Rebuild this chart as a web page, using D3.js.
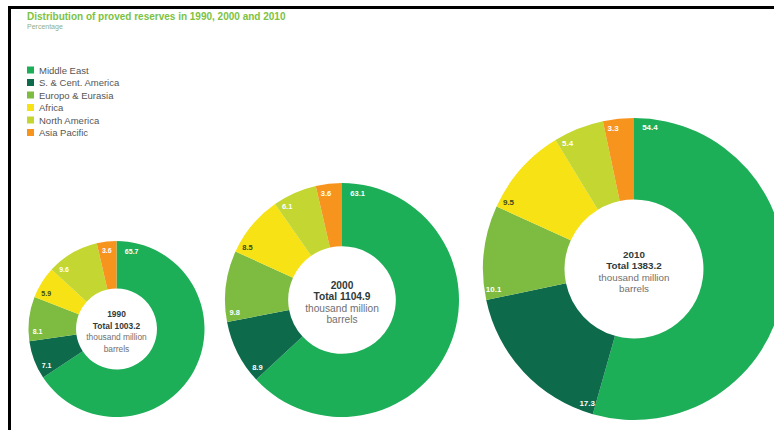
<!DOCTYPE html>
<html>
<head>
<meta charset="utf-8">
<script src="https://cdn.jsdelivr.net/npm/d3@7"></script>
<style>
  body { margin: 0; background: #fff; }
  svg { display: block; font-family: "Liberation Sans", Arial, sans-serif; }
</style>
</head>
<body>
<div id="chart"></div>
<script>
// data
const regions = ["Middle East", "S. & Cent. America", "Europo & Eurasia", "Africa", "North America", "Asia Pacific"];
const years = ["1990", "2000", "2010"];
const totals = ["1003.2", "1104.9", "1383.2"];
const share1990 = [65.7, 7.1, 8.1, 5.9, 9.6, 3.6];
const share2000 = [63.1, 8.9, 9.8, 8.5, 6.1, 3.6];
const share2010 = [54.4, 17.3, 10.1, 9.5, 5.4, 3.3];
const shares = [share1990, share2000, share2010];

// constants
const w = 774;
const h = 430;
const colors = ["#1dae58", "#0d6b4c", "#7dbb41", "#f6e215", "#c3d631", "#f7941e"];
const labelColors = ["#fff", "#fff", "#fff", "#3b4a1c", "#fff", "#fff"];
const donuts = [
  { cx: 116.5, cy: 329, r: 88, labelSize: 7, textSize: 8.4 },
  { cx: 342, cy: 300, r: 117, labelSize: 7.5, textSize: 10.2 },
  { cx: 634, cy: 269, r: 151, labelSize: 8, textSize: 9.8 }
];

const color = d3.scaleOrdinal().domain(regions).range(colors);

const svg = d3.select("#chart")
  .append("svg")
  .attr("width", w)
  .attr("height", h);

// frame
svg.append("rect").attr("x", 8).attr("y", 6).attr("width", w - 8).attr("height", 3).attr("fill", "#000");
svg.append("rect").attr("x", 8).attr("y", 6).attr("width", 3).attr("height", h - 6).attr("fill", "#000");

// title
svg.append("text")
  .attr("x", 27)
  .attr("y", 19.5)
  .attr("font-size", 10)
  .attr("font-weight", "bold")
  .attr("fill", "#7cc242")
  .text("Distribution of proved reserves in 1990, 2000 and 2010");
svg.append("text")
  .attr("x", 27)
  .attr("y", 29)
  .attr("font-size", 7)
  .attr("fill", "#8fae86")
  .text("Percentage");

// legend
const legend = svg.append("g")
  .selectAll("g")
  .data(regions)
  .enter()
  .append("g")
  .attr("transform", (d, i) => `translate(27, ${66.5 + i * 12.5})`);
legend.append("rect")
  .attr("width", 7)
  .attr("height", 7)
  .attr("fill", (d) => color(d));
legend.append("text")
  .attr("x", 12)
  .attr("y", 3.5)
  .attr("dominant-baseline", "central")
  .attr("font-size", 9.5)
  .attr("fill", "#555")
  .text((d) => d);

// donuts
const pie = d3.pie().sort(null).value((d) => d.value);

donuts.forEach((dn, k) => {
  const data = regions.map((name, i) => ({ name: name, value: shares[k][i], index: i }));
  const arcs = pie(data);
  const arc = d3.arc().innerRadius(dn.r * 0.46).outerRadius(dn.r);
  const g = svg.append("g").attr("transform", `translate(${dn.cx},${dn.cy})`);

  g.selectAll("path")
    .data(arcs)
    .enter()
    .append("path")
    .attr("d", arc)
    .attr("fill", (d) => color(d.data.name));

  // value labels sit just inside the start edge of each slice
  const lr = dn.r - 9;
  g.selectAll("text.val")
    .data(arcs)
    .enter()
    .append("text")
    .attr("class", "val")
    .attr("x", (d) => lr * Math.sin(d.startAngle + (d.index === 0 ? 17 : 9) / dn.r))
    .attr("y", (d) => -lr * Math.cos(d.startAngle + (d.index === 0 ? 17 : 9) / dn.r))
    .attr("text-anchor", "middle")
    .attr("dominant-baseline", "central")
    .attr("font-size", dn.labelSize)
    .attr("font-weight", "bold")
    .attr("fill", (d) => labelColors[d.index])
    .text((d) => d.data.value.toFixed(1));

  // centre text
  const lines = [
    { t: years[k], bold: true },
    { t: "Total " + totals[k], bold: true },
    { t: "thousand million", bold: false },
    { t: "barrels", bold: false }
  ];
  g.selectAll("text.centre")
    .data(lines)
    .enter()
    .append("text")
    .attr("class", "centre")
    .attr("x", 0)
    .attr("y", (d, i) => -15 + i * 11.5)
    .attr("text-anchor", "middle")
    .attr("dominant-baseline", "central")
    .attr("font-size", dn.textSize)
    .attr("font-weight", (d) => (d.bold ? "bold" : "normal"))
    .attr("fill", (d) => (d.bold ? "#2e3b3a" : "#707070"))
    .text((d) => d.t);
});
</script>
</body>
</html>
